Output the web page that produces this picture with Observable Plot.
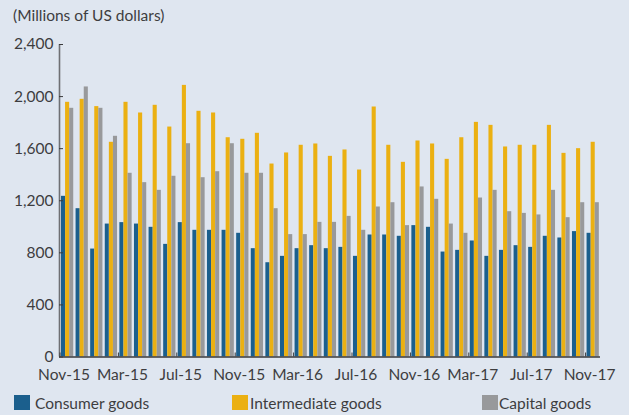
<!DOCTYPE html>
<html>
<head>
<meta charset="utf-8">
<script src="https://cdn.jsdelivr.net/npm/d3@7"></script>
<script src="https://cdn.jsdelivr.net/npm/@observablehq/plot@0.6"></script>
<style>
  html, body { margin: 0; padding: 0; background: #dfe6f0; }
  #wrap { position: relative; width: 629px; height: 415px; overflow: hidden; background: #dfe6f0;
          font-family: Lato, "Open Sans", sans-serif; color: #3d3d3f; }
  #title { position: absolute; left: 13px; top: 6px; font-size: 15.5px; white-space: nowrap; }
  #chart { position: absolute; left: 0; top: 0; }
  .leg { position: absolute; top: 394px; font-size: 15.5px; white-space: nowrap; line-height: 18px; }
  .sw { position: absolute; top: 395px; width: 16px; height: 15px; }
</style>
</head>
<body>
<div id="wrap">
  <div id="title">(Millions of US dollars)</div>
  <div id="chart"></div>
  <div id="legend"></div>
</div>
<script>
// ---- data ----
const months = ["Nov-14","Dec-14","Jan-15","Feb-15","Mar-15","Apr-15","May-15","Jun-15","Jul-15","Aug-15","Sep-15","Oct-15",
  "Nov-15","Dec-15","Jan-16","Feb-16","Mar-16","Apr-16","May-16","Jun-16","Jul-16","Aug-16","Sep-16","Oct-16",
  "Nov-16","Dec-16","Jan-17","Feb-17","Mar-17","Apr-17","May-17","Jun-17","Jul-17","Aug-17","Sep-17","Oct-17","Nov-17"];
const seriesNames = ["Consumer goods", "Intermediate goods", "Capital goods"];
const consumer = [1234,1139,829,1021,1032,1021,996,865,1032,973,973,973,950,832,724,773,832,855,832,842,773,937,937,927,1009,996,806,819,891,773,819,855,842,927,914,963,950];
const intermediate = [1956,1979,1923,1649,1956,1874,1933,1766,2086,1887,1874,1684,1672,1718,1482,1567,1626,1636,1541,1590,1436,1920,1626,1495,1659,1636,1518,1684,1802,1779,1613,1626,1626,1779,1564,1600,1649];
const capital = [1910,2074,1910,1695,1411,1339,1280,1388,1638,1377,1423,1638,1411,1411,1139,940,940,1034,1034,1080,973,1152,1185,1009,1306,1211,1021,950,1221,1280,1116,1103,1091,1280,1070,1185,1185];
const tickLabels = ["Nov-15","Mar-15","Jul-15","Nov-15","Mar-16","Jul-16","Nov-16","Mar-17","Jul-17","Nov-17"];
const yTicks = [0, 400, 800, 1200, 1600, 2000, 2400];
const colors = ["#1b5f8d", "#ebb012", "#98999b"];

// ---- build table ----
const values = [consumer, intermediate, capital];
const rows = [];
months.forEach((m, i) => {
  seriesNames.forEach((s, k) => rows.push({i, month: m, series: s, k, value: values[k][i]}));
});
const tickIdx = tickLabels.map((_, j) => j * 4);

const barW = 0.28, gap0 = 0.1;
const xDomain = [-0.035, 37.02];

const chart = Plot.plot({
  width: 629,
  height: 390,
  marginLeft: 59,
  marginRight: 29,
  marginTop: 44,
  marginBottom: 33.5,
  style: {background: "transparent", fontFamily: "Lato, 'Open Sans', sans-serif", fontSize: "15.5px", color: "#3d3d3f"},
  x: {type: "linear", domain: xDomain},
  y: {domain: [0, 2400]},
  color: {domain: seriesNames, range: colors},
  marks: [
    Plot.rectY(rows, {
      x1: d => d.i + gap0 + d.k * barW,
      x2: d => d.i + gap0 + (d.k + 1) * barW,
      y1: 0, y2: "value", fill: "series"
    }),
    Plot.ruleX([xDomain[0]], {stroke: "#6f7074", strokeWidth: 1.6}),
    Plot.ruleY([0], {stroke: "#3a3a3c", strokeWidth: 1.6}),
    Plot.axisY({ticks: yTicks, tickFormat: d3.format(","), tickSize: 0, tickPadding: 6, label: null, fill: "#3d3d3f"}),
    Plot.axisY({ticks: yTicks, tickFormat: () => "", tickSize: -4, label: null, stroke: "#3a3a3c"}),
    Plot.axisX({ticks: tickIdx, tickFormat: (d, j) => tickLabels[tickIdx.indexOf(d)], tickSize: 0, tickPadding: 12, dx: 4, label: null, fill: "#3d3d3f"}),
    Plot.axisX({ticks: tickIdx, tickFormat: () => "", tickSize: -4, label: null, stroke: "#3a3a3c"})
  ]
});
document.getElementById("chart").appendChild(chart);

// ---- legend ----
const legPos = [{sw: 14, tx: 35}, {sw: 232, tx: 250}, {sw: 482, tx: 499}];
const leg = document.getElementById("legend");
seriesNames.forEach((s, k) => {
  const sw = document.createElement("div");
  sw.className = "sw"; sw.style.left = legPos[k].sw + "px"; sw.style.background = colors[k];
  const tx = document.createElement("div");
  tx.className = "leg"; tx.style.left = legPos[k].tx + "px"; tx.textContent = s;
  leg.appendChild(sw); leg.appendChild(tx);
});
</script>
</body>
</html>
